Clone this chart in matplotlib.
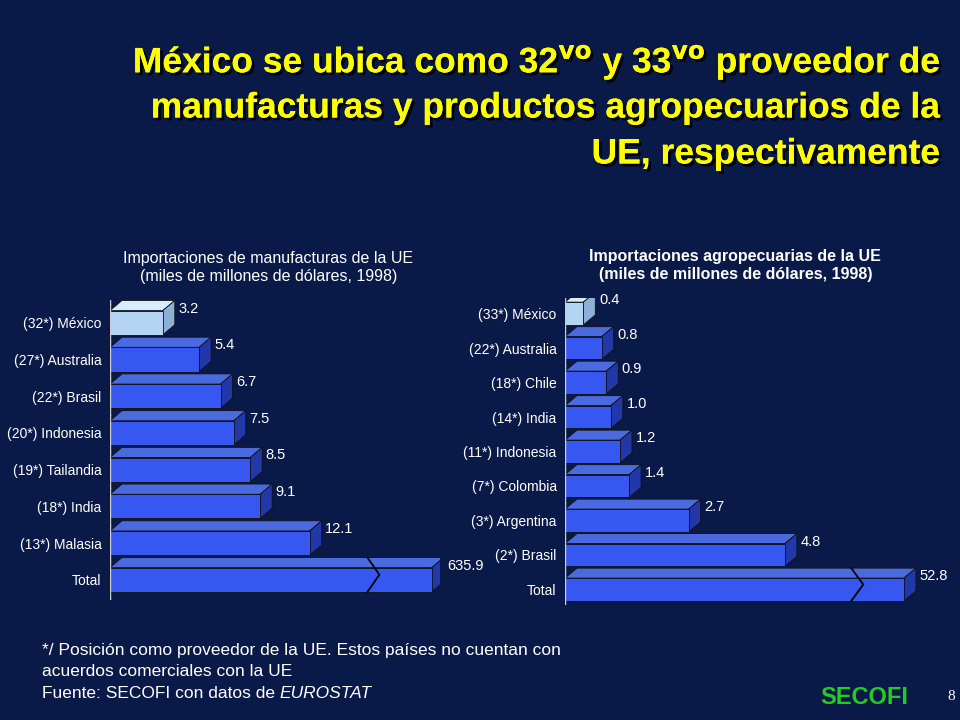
import matplotlib
matplotlib.use("Agg")
import matplotlib.pyplot as plt
import matplotlib.patheffects as pe
from matplotlib.patches import Polygon

plt.rcParams["font.family"] = "Liberation Sans"

left_cats = ["(32*) México", "(27*) Australia", "(22*) Brasil", "(20*) Indonesia",
             "(19*) Tailandia", "(18*) India", "(13*) Malasia", "Total"]
left_vals = [3.2, 5.4, 6.7, 7.5, 8.5, 9.1, 12.1, 635.9]
left_labels = ["3.2", "5.4", "6.7", "7.5", "8.5", "9.1", "12.1", "635.9"]

right_cats = ["(33*) México", "(22*) Australia", "(18*) Chile", "(14*) India",
              "(11*) Indonesia", "(7*) Colombia", "(3*) Argentina", "(2*) Brasil", "Total"]
right_vals = [0.4, 0.8, 0.9, 1.0, 1.2, 1.4, 2.7, 4.8, 52.8]
right_labels = ["0.4", "0.8", "0.9", "1.0", "1.2", "1.4", "2.7", "4.8", "52.8"]

BG = "#0a1a48"
FRONT = "#3658f0"
TOP = "#4a6ae0"
SIDE = "#2238a8"
MEX = "#b4d4f4"
MEX_TOP = "#d8ecff"
MEX_SIDE = "#8cb0d8"

fig = plt.figure(figsize=(9.6, 7.2), dpi=100, facecolor=BG)

def chart(rect, cats, vals, labels, xmax, cap, ylim, title, px_per_unit, px_per_row, brk, bold):
    ax = fig.add_axes(rect)
    ax.set_facecolor(BG)
    ax.set_xlim(0, xmax)
    ax.set_ylim(*ylim)
    for s in ax.spines.values():
        s.set_visible(False)
    ax.set_xticks([])
    ax.set_yticks(range(len(cats)))
    ax.set_yticklabels(cats, color="white", fontsize=10)
    ax.tick_params(axis="y", length=0, pad=6)
    dx = 12 / px_per_unit
    dy = 10 / px_per_row
    h = 0.66
    ax.plot([0, 0], [ylim[0], -0.5 - dy], color="#cccccc", lw=1)
    for i in range(len(cats) + 1):
        ax.plot([-dx * 0.4, 0], [i - 0.5, i - 0.5], color="#cccccc", lw=1)
    for i, (v, lab) in enumerate(zip(vals, labels)):
        w = min(v, cap)
        f, t, sd = (MEX, MEX_TOP, MEX_SIDE) if i == 0 else (FRONT, TOP, SIDE)
        y0, y1 = i - h / 2, i + h / 2
        ax.add_patch(Polygon([(0, y0), (dx, y0 - dy), (w + dx, y0 - dy), (w, y0)],
                             closed=True, fc=t, ec="#101010", lw=0.6))
        ax.add_patch(Polygon([(w, y0), (w + dx, y0 - dy), (w + dx, y1 - dy), (w, y1)],
                             closed=True, fc=sd, ec="#101010", lw=0.6))
        ax.add_patch(Polygon([(0, y0), (w, y0), (w, y1), (0, y1)],
                             closed=True, fc=f, ec="#101010", lw=0.6))
        if v > cap:
            ax.plot([brk, brk + dx, brk], [y0 - dy, i - dy / 2, y1], color="black", lw=1.3)
        ax.text(w + dx * 1.3, y0 - dy * 0.2, lab, color="white", fontsize=10.5,
                ha="left", va="center")
    fig.text(rect[0] + rect[2] * 0.48, rect[1] + rect[3] + 0.022, title, color="white",
             fontsize=11.5, ha="center", va="bottom", linespacing=1.3,
             fontweight="bold" if bold else "normal")
    return ax

chart([110 / 960, 120 / 720, 330 / 960, 300 / 720], left_cats, left_vals, left_labels,
      20.0, 19.5, (7.55, -0.62),
      "Importaciones de manufacturas de la UE\n(miles de millones de dólares, 1998)",
      16.5, 36.0, 15.6, False)
chart([565 / 960, 115 / 720, 355 / 960, 307 / 720], right_cats, right_vals, right_labels,
      7.75, 7.4, (8.45, -0.45),
      "Importaciones agropecuarias de la UE\n(miles de millones de dólares, 1998)",
      45.8, 34.6, 6.25, True)

title_lines = [r"México se ubica como 32$^{\mathbf{vo}}$ y 33$^{\mathbf{vo}}$ proveedor de",
               "manufacturas y productos agropecuarios de la",
               "UE, respectivamente"]
shadow = [pe.withSimplePatchShadow(offset=(2, -2), shadow_rgbFace="black", alpha=1.0), pe.Normal()]
for k, line in enumerate(title_lines):
    y = 1 - (62 + 46 * k) / 720
    fig.text(940 / 960, y, line, color="#ffff00", fontsize=25.5, fontweight="bold",
             ha="right", va="center", path_effects=shadow)

fs = 12.5
fig.text(42 / 960, 1 - 650 / 720, "*/ Posición como proveedor de la UE. Estos países no cuentan con",
         color="white", fontsize=fs, va="center")
fig.text(42 / 960, 1 - 672 / 720, "acuerdos comerciales con la UE", color="white", fontsize=fs, va="center")
t = fig.text(42 / 960, 1 - 694 / 720, "Fuente: SECOFI con datos de ", color="white", fontsize=fs, va="center")
fig.canvas.draw()
bb = t.get_window_extent()
fig.text(bb.x1 / 960, 1 - 694 / 720, "EUROSTAT", color="white", fontsize=fs, va="center", style="italic")
fig.text(820 / 960, 1 - 698 / 720, "SECOFI", color="#22cc22", fontsize=17, fontweight="bold", va="center")
fig.text(955 / 960, 1 - 697 / 720, "8", color="white", fontsize=11, ha="right", va="center",
         family="Liberation Serif")

fig.savefig("out.png", dpi=100, facecolor=BG)
